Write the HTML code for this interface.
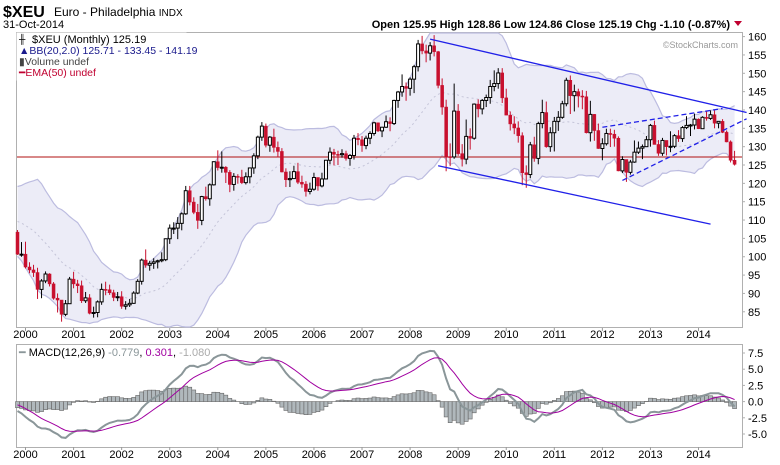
<!DOCTYPE html>
<html><head><meta charset="utf-8"><style>
body{margin:0;background:#fff;width:780px;height:465px;overflow:hidden;font-family:"Liberation Sans",Arial,sans-serif}
svg{position:absolute;left:0;top:0}
text{font-family:"Liberation Sans",Arial,sans-serif}
</style></head><body>
<svg id="c" width="780" height="465" viewBox="0 0 780 465">
<text x="3" y="17" font-size="16" font-weight="bold" fill="#000">$XEU</text>
<text x="54" y="16" font-size="12" fill="#000">Euro - Philadelphia <tspan font-size="10">INDX</tspan></text>
<text x="3" y="28" font-size="11" fill="#000">31-Oct-2014</text>
<text x="730" y="28" font-size="11" font-weight="bold" text-anchor="end" fill="#000">Open 125.95  High 128.86  Low 124.86  Close 125.19  Chg -1.10 (-0.87%)</text>
<path d="M734 21 L742 21 L738 26 Z" fill="#c00030"/>
<rect x="16.5" y="32.5" width="726" height="295" fill="#fff" stroke="#b0b0b0"/>
<g id="main"></g>
<rect x="16.5" y="32.5" width="170" height="48" fill="#fff" stroke="none" opacity="0.85"/>
<text x="32" y="43" font-size="11" fill="#000">$XEU (Monthly) 125.19</text>
<text x="19" y="42" font-size="9" fill="#000">╫</text>
<text x="19" y="54" font-size="10.5" fill="#1a1a8c">▲BB(20,2.0) 125.71 - 133.45 - 141.19</text>
<text x="19" y="65" font-size="10.5" fill="#444">▮Volume undef</text>
<text x="19" y="76" font-size="10.5" fill="#c00030">━EMA(50) undef</text>
<text x="738" y="48" font-size="9" fill="#999" text-anchor="end">©StockCharts.com</text>
<rect x="16.5" y="344.5" width="726" height="103" fill="#fff" stroke="#b0b0b0"/>
<g id="macd"></g>
<text x="19" y="356" font-size="11" fill="#000"><tspan fill="#8a9699">━ </tspan>MACD(12,26,9) <tspan fill="#8a9699">-0.779</tspan>, <tspan fill="#a000a0">0.301</tspan>, <tspan fill="#aaa">-1.080</tspan></text>
</svg>
<script>
// pre-chart closes (Jan 1998 - Oct 1999) used only for indicator warm-up
const warmupCloses = [108.0,109.0,107.7,110.0,110.5,110.4,110.0,112.0,117.5,118.0,116.4,116.7,
113.1,109.8,107.6,105.9,104.2,103.1,107.3,106.0,106.8,106.7];
const closes = [100.7,100.7,
97.2,96.4,95.7,91.1,93.4,95.3,92.6,88.7,88.2,84.3,87.2,93.9,
92.6,92.1,88.0,88.8,84.6,84.8,87.7,91.1,91.0,90.2,88.9,89.1,
86.5,86.9,87.3,90.1,93.3,99.1,97.7,98.2,98.6,98.9,99.2,104.9,
107.8,107.8,109.1,111.7,118.0,114.9,112.1,109.9,116.4,115.8,119.6,125.9,
124.3,124.4,123.0,119.7,121.9,121.7,120.2,121.8,124.2,127.5,132.6,135.6,
130.4,132.6,129.8,128.7,123.1,121.0,121.3,123.2,120.3,119.8,117.8,118.4,
121.6,119.3,121.2,126.3,128.5,127.9,127.8,128.1,126.8,127.6,132.3,131.9,
130.3,132.3,133.6,136.5,134.3,135.3,136.8,136.3,142.6,144.9,146.4,145.9,
148.4,151.8,158.0,156.1,155.5,157.5,155.9,146.7,140.8,127.3,127.2,139.7,
128.1,126.6,132.8,132.3,141.6,140.3,142.6,143.4,146.4,147.2,150.1,143.3,
138.6,136.2,135.1,133.0,122.9,122.4,130.5,126.8,136.3,139.3,130.0,133.8,
136.9,138.0,141.7,148.1,143.9,145.0,143.8,143.6,133.8,138.8,134.4,129.5,
130.8,133.6,133.4,132.3,123.4,126.5,123.0,125.8,128.5,129.6,130.0,131.9,
135.8,130.6,128.2,131.7,130.0,130.1,133.0,132.2,135.2,135.8,135.9,137.5,
134.9,138.0,137.7,138.7,136.4,136.9,133.9,131.3,126.3,125.19];
const highs = [107.3,104.0,
104.1,98.5,97.8,97.0,93.9,96.0,95.5,93.1,90.0,86.8,88.2,94.5,
95.9,93.7,93.5,90.4,89.8,86.4,88.1,92.7,93.2,92.4,91.0,90.4,
90.6,87.9,88.5,90.6,93.9,99.5,102.0,98.9,99.6,99.2,101.2,105.0,
108.8,109.4,110.8,112.1,119.3,119.3,116.2,114.4,116.6,119.1,120.0,126.0,
129.0,128.7,124.7,123.6,122.8,122.5,123.7,123.0,124.2,128.2,133.0,136.7,
136.3,132.9,134.9,131.4,129.6,124.1,123.3,124.8,125.6,122.1,120.6,120.2,
122.9,121.5,122.9,126.4,129.8,129.4,128.9,129.3,128.9,128.0,133.2,133.7,
132.9,133.0,134.2,136.8,136.6,135.4,138.5,138.0,142.8,145.2,149.7,147.5,
148.9,152.3,159.1,160.2,157.8,158.5,160.4,156.1,148.6,142.8,130.9,147.2,
141.6,130.7,137.4,135.0,141.8,142.9,143.0,144.2,148.2,150.8,151.4,151.4,
145.8,139.6,138.3,136.9,133.9,124.9,131.3,132.7,136.8,142.8,142.3,135.3,
138.1,139.7,142.5,148.8,149.4,146.9,145.8,145.4,145.2,142.5,138.9,136.3,
132.3,134.9,134.9,134.6,132.8,127.4,126.0,126.4,131.7,131.4,130.6,132.9,
136.2,137.1,131.8,132.4,131.3,134.2,133.4,134.5,135.6,138.3,136.2,139.0,
137.7,138.3,139.7,139.9,139.9,137.0,137.5,134.4,131.7,128.86];
const lows = [100.5,100.0,
96.8,95.5,94.5,88.5,88.7,92.8,91.9,88.3,84.8,82.3,83.8,87.3,
91.4,90.1,87.4,87.4,84.3,83.4,83.5,86.9,89.5,89.6,87.9,87.9,
85.8,85.6,86.3,87.2,89.8,92.4,97.0,96.2,96.7,96.8,98.5,98.8,
103.5,106.2,104.8,107.2,111.4,114.0,111.6,107.6,108.6,115.3,113.9,119.4,
123.5,122.9,120.1,117.6,118.0,119.9,119.8,119.7,120.0,122.6,126.6,131.6,
129.8,128.6,128.4,127.1,123.0,119.0,119.0,121.5,119.8,118.8,116.4,117.0,
118.0,118.0,118.9,121.1,125.2,124.9,125.0,127.0,126.2,124.8,126.5,130.4,
128.6,129.3,130.7,133.0,134.0,132.6,135.1,134.2,135.9,140.6,143.6,142.5,
143.9,144.6,150.5,155.2,153.0,153.5,154.6,145.9,138.7,123.3,124.7,126.7,
127.5,124.6,125.2,129.2,131.9,138.0,138.8,140.8,141.7,145.1,145.8,141.9,
138.6,134.4,133.4,131.1,119.5,118.8,121.4,125.9,125.2,135.0,129.7,128.6,
128.7,134.3,137.6,141.0,138.9,139.6,140.7,140.2,133.6,131.4,131.6,129.4,
126.3,130.3,129.9,130.0,123.3,122.8,120.4,122.4,125.6,128.0,126.6,129.9,
130.0,130.6,127.5,127.5,127.6,128.5,129.6,131.3,131.3,134.8,132.9,134.7,
134.8,134.9,137.1,137.3,135.0,135.0,133.7,131.2,125.7,124.86];
const firstOpen = 106.7;
const priceTicks = [160,155,150,145,140,135,130,125,120,115,110,105,100,95,90,85];
const macdTicks = [7.5,5.0,2.5,0.0,-2.5,-5.0];
const yearLabels = ["2000","2001","2002","2003","2004","2005","2006","2007","2008","2009","2010","2011","2012","2013","2014"];
const refLevel = 127.2;
// trendlines: [monthIndexA, priceA, monthIndexB, priceB]
const chanTop = [103,159.3,182,139.3];
const chanBot = [105,124.8,173,108.9];
const wedgeTop = [146,135.3,176,140.4];
const wedgeBot = [151,120.8,182,137.6];

const NS="http://www.w3.org/2000/svg";
const X = i => 17.5 + i*4.006;
const YP = p => 36.6 + (160-p)*3.669;
const YM = v => 401.6 - v*6.48;
function mk(tag, parent, attrs){const e=document.createElementNS(NS,tag);for(const k in attrs)e.setAttribute(k,attrs[k]);parent.appendChild(e);return e;}
const main=document.getElementById('main'), mg=document.getElementById('macd'), svg=document.getElementById('c');
const n=closes.length;
const W=warmupCloses.length;
const all=warmupCloses.concat(closes);
const opens=closes.map((c,i)=>i===0?firstOpen:closes[i-1]);

// Bollinger bands
const up=[],mid=[],lo=[];
for(let i=0;i<n;i++){const j=i+W;const s=Math.max(0,j-19);const w=all.slice(s,j+1);const m=w.reduce((a,b)=>a+b,0)/w.length;
 const sd=Math.sqrt(w.reduce((a,b)=>a+(b-m)*(b-m),0)/w.length);mid.push(m);up.push(m+2*sd);lo.push(m-2*sd);}
let d='M'+up.map((v,i)=>X(i).toFixed(1)+','+Math.max(33,YP(v)).toFixed(1)).join('L');
for(let i=n-1;i>=0;i--)d+='L'+X(i).toFixed(1)+','+Math.min(327,YP(lo[i])).toFixed(1);
let band=mk('path',main,{d:d+'Z',fill:'#ececf7',stroke:'none'});


let bu=mk('path',main,{d:'M'+up.map((v,i)=>X(i).toFixed(1)+','+Math.max(33,YP(v)).toFixed(1)).join('L'),fill:'none',stroke:'#bcbce0','stroke-width':1.2});


let bl=mk('path',main,{d:'M'+lo.map((v,i)=>X(i).toFixed(1)+','+Math.min(327,YP(v)).toFixed(1)).join('L'),fill:'none',stroke:'#bcbce0','stroke-width':1.2});


let bm=mk('path',main,{d:'M'+mid.map((v,i)=>X(i).toFixed(1)+','+YP(v).toFixed(1)).join('L'),fill:'none',stroke:'#c4c4d8','stroke-width':1,'stroke-dasharray':'2,3'});



// reference line
let rl=mk('line',main,{x1:17,x2:742,y1:YP(refLevel),y2:YP(refLevel),stroke:'#b01010','stroke-width':1});



// candles
for(let i=0;i<n;i++){
 const o=opens[i],c=closes[i],upC=c>=o,x=X(i);
 const col=upC?'#000':'#c8102e';
 const g=mk('g',main,{});
 
 
 mk('line',g,{x1:x,x2:x,y1:YP(highs[i]),y2:YP(lows[i]),stroke:col,'stroke-width':1});
 const t=YP(Math.max(o,c)),b=YP(Math.min(o,c));
 mk('rect',g,{x:x-1.5,y:t,width:3,height:Math.max(1,b-t),fill:upC?'#fff':'#c8102e',stroke:col,'stroke-width':upC?1:0.5});
}

// trendlines
function tl(a,dash){let l=mk('line',main,{x1:X(a[0]),y1:YP(a[1]),x2:X(a[2]),y2:YP(a[3]),stroke:'#2020e8','stroke-width':1.3});
 if(dash)l.setAttribute('stroke-dasharray','5,3');return l;}
let t1=tl(chanTop);


let t2=tl(chanBot);


let t3=tl(wedgeTop,true);


let t4=tl(wedgeBot,true);



// price axis
priceTicks.forEach(p=>{const y=YP(p);
 mk('line',svg,{x1:742,x2:745,y1:y,y2:y,stroke:'#b0b0b0'});
 const t=mk('text',svg,{x:748,y:y+4,'font-size':11,fill:'#000'});t.textContent=p;
 
 
});
// year labels
yearLabels.forEach((yl,k)=>{const x=X(2+k*12);
 [338,458].forEach(yy=>{const t=mk('text',svg,{x:x,y:yy,'font-size':11,'text-anchor':'middle',fill:'#000'});t.textContent=yl;
 
 });
 mk('line',svg,{x1:x,x2:x,y1:328,y2:331,stroke:'#999'});mk('line',svg,{x1:x,x2:x,y1:447,y2:450,stroke:'#999'});
});

// MACD (computed on warm-up + chart closes, plotted for chart months)
function ema(arr,p){const k=2/(p+1);const out=[];arr.forEach((v,i)=>out.push(i?v*k+out[i-1]*(1-k):v));return out;}
const e12=ema(all,12),e26=ema(all,26);
const macdAll=e12.map((v,i)=>v-e26[i]);const sigAll=ema(macdAll,9);
const macd=macdAll.slice(W), sig=sigAll.slice(W);
for(let i=0;i<n;i++){const h=macd[i]-sig[i];const y0=YM(0),y1=YM(h);
 const r=mk('rect',mg,{x:X(i)-2,y:Math.min(y0,y1),width:4,height:Math.abs(y1-y0),fill:'#b0b8bc',stroke:'#666','stroke-width':0.6});
 
 
}
let ml=mk('path',mg,{d:'M'+macd.map((v,i)=>X(i).toFixed(1)+','+YM(v).toFixed(1)).join('L'),fill:'none',stroke:'#8a9699','stroke-width':2});


let sl=mk('path',mg,{d:'M'+sig.map((v,i)=>X(i).toFixed(1)+','+YM(v).toFixed(1)).join('L'),fill:'none',stroke:'#a000a0','stroke-width':1});


macdTicks.forEach(v=>{const y=YM(v);
 mk('line',svg,{x1:742,x2:745,y1:y,y2:y,stroke:'#b0b0b0'});
 const t=mk('text',svg,{x:748,y:y+4,'font-size':11,fill:'#000'});t.textContent=v.toFixed(1);
 
 
});
</script>
</body></html>
